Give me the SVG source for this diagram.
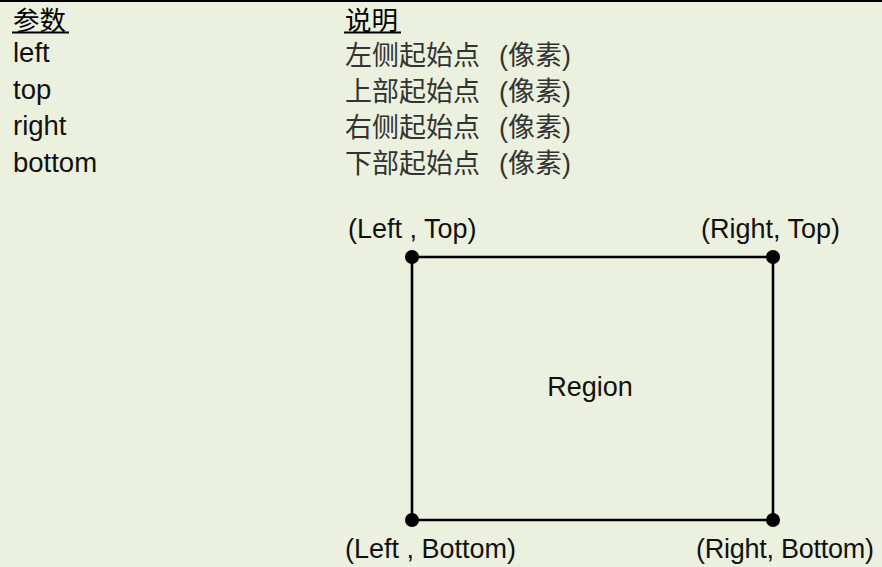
<svg xmlns="http://www.w3.org/2000/svg" width="882" height="567" viewBox="0 0 882 567">
<style>
.lat{font-family:"Liberation Sans",Arial,sans-serif;font-size:27.5px;fill:#111}
.lbl{font-family:"Liberation Sans",Arial,sans-serif;font-size:27px;fill:#111}
.cjk{font-family:"Liberation Sans","Noto Sans CJK SC",sans-serif;font-size:27px;fill:#333}
.hdr{font-family:"Liberation Sans","Noto Sans CJK SC",sans-serif;font-size:26.5px;fill:#000}
.edge{stroke:#000;stroke-width:2.6;fill:none}
.dot{fill:#000}
.ul{stroke:#000;stroke-width:2}
</style>
<rect x="0" y="0" width="882" height="567" fill="#EBF1DE"/>
<line x1="0" y1="1" x2="882" y2="1" stroke="#000" stroke-width="2"/>
<g id="table">
  <g id="header-param">
    <text class="hdr" x="13" y="30">参数</text>
    <line class="ul" x1="12" y1="32.5" x2="69" y2="32.5"/>
  </g>
  <g id="header-desc">
    <text class="hdr" x="345" y="30">说明</text>
    <line class="ul" x1="344" y1="32.5" x2="401" y2="32.5"/>
  </g>
  <g id="row-left">
    <text class="lat" x="13" y="62">left</text>
    <text class="cjk" x="345" y="65">左侧起始点 <tspan x="499">(像素)</tspan></text>
  </g>
  <g id="row-top">
    <text class="lat" x="13" y="98.5">top</text>
    <text class="cjk" x="345" y="101">上部起始点 <tspan x="499">(像素)</tspan></text>
  </g>
  <g id="row-right">
    <text class="lat" x="13" y="135">right</text>
    <text class="cjk" x="345" y="137">右侧起始点 <tspan x="499">(像素)</tspan></text>
  </g>
  <g id="row-bottom">
    <text class="lat" x="13" y="171.5">bottom</text>
    <text class="cjk" x="345" y="172.5">下部起始点 <tspan x="499">(像素)</tspan></text>
  </g>
</g>
<g id="connectors">
  <line class="edge" x1="412" y1="257" x2="773" y2="257"/>
  <line class="edge" x1="773" y1="257" x2="773" y2="520"/>
  <line class="edge" x1="773" y1="520" x2="412" y2="520"/>
  <line class="edge" x1="412" y1="520" x2="412" y2="257"/>
</g>
<g id="region">
  <text class="lbl" x="590" y="396" text-anchor="middle">Region</text>
</g>
<g id="corner-lt">
  <circle class="dot" cx="412" cy="257" r="7"/>
  <text class="lbl" x="348" y="238">(Left , Top)</text>
</g>
<g id="corner-rt">
  <circle class="dot" cx="773" cy="257" r="7"/>
  <text class="lbl" x="701" y="238">(Right, Top)</text>
</g>
<g id="corner-lb">
  <circle class="dot" cx="412" cy="520" r="7"/>
  <text class="lbl" x="345" y="558">(Left , Bottom)</text>
</g>
<g id="corner-rb">
  <circle class="dot" cx="773" cy="520" r="7"/>
  <text class="lbl" x="696" y="558" textLength="178">(Right, Bottom)</text>
</g>
</svg>
